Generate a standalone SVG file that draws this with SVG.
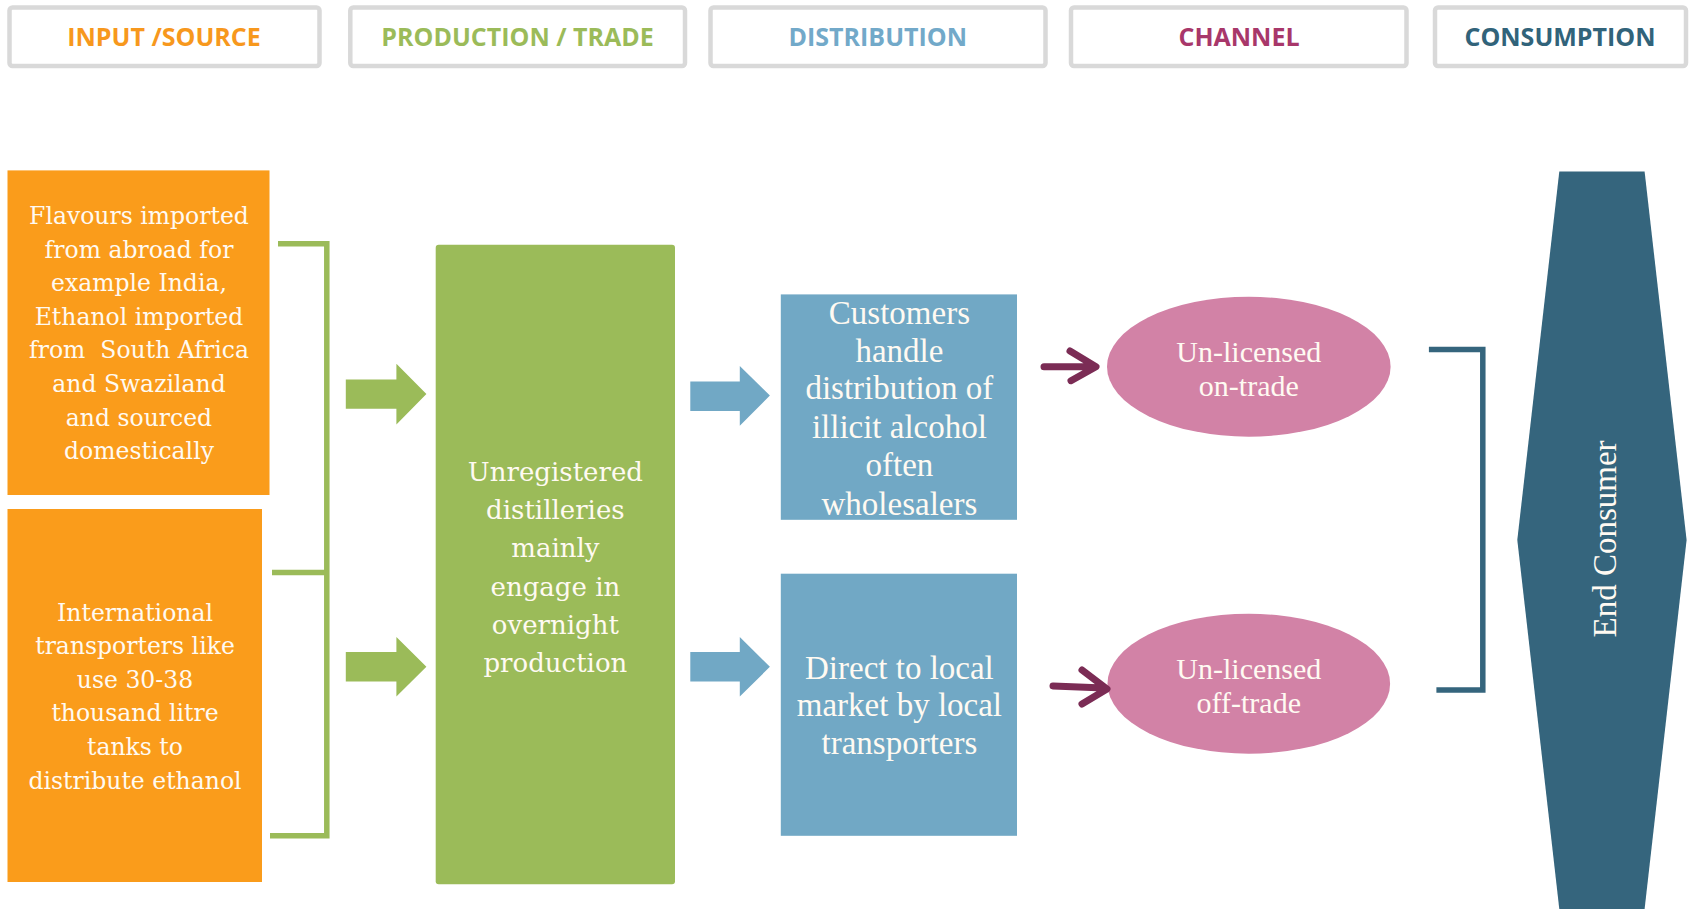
<svg xmlns="http://www.w3.org/2000/svg" width="1691" height="911" viewBox="0 0 1691 911">
<style>
.hdr{fill:#fff;stroke:#d9d9d9;stroke-width:4.5}
.ht{font-family:"Open Sans","Liberation Sans",sans-serif;font-weight:700;font-size:25px;text-anchor:middle}
.st{font-family:"DejaVu Serif","Liberation Serif",serif;font-size:23.5px;fill:#fffaf2;text-anchor:middle}
.gt{font-family:"DejaVu Serif","Liberation Serif",serif;font-size:26px;fill:#fffaf2;text-anchor:middle}
.ct{font-family:"Liberation Serif",serif;font-size:33px;fill:#fffaf2;text-anchor:middle}
.et{font-family:"Liberation Serif",serif;font-size:30px;fill:#fffaf2;text-anchor:middle}
.ec{font-family:"Liberation Serif",serif;font-size:33px;fill:#fffaf2;text-anchor:middle}
.br{fill:none;stroke-width:5.5}
.mar{fill:none;stroke:#7b2c55;stroke-width:7;stroke-linecap:round;stroke-linejoin:round}
</style>
<rect width="1691" height="911" fill="#fff"/>

<g id="header-input"><rect class="hdr" x="9.5" y="7.5" width="310" height="58.5" rx="3"/><text class="ht" x="164" y="45.5" fill="#f7981d">INPUT /SOURCE</text></g>
<g id="header-production"><rect class="hdr" x="350.3" y="7.5" width="334.7" height="58.5" rx="3"/><text class="ht" x="517.6" y="45.5" fill="#9bbb59">PRODUCTION / TRADE</text></g>
<g id="header-distribution"><rect class="hdr" x="710.5" y="7.5" width="335" height="58.5" rx="3"/><text class="ht" x="877.8" y="45.5" fill="#72a9c9">DISTRIBUTION</text></g>
<g id="header-channel"><rect class="hdr" x="1071" y="7.5" width="335.5" height="58.5" rx="3"/><text class="ht" x="1239" y="45.5" fill="#a8376a">CHANNEL</text></g>
<g id="header-consumption"><rect class="hdr" x="1435" y="7.5" width="251" height="58.5" rx="3"/><text class="ht" x="1560" y="45.5" fill="#31637a">CONSUMPTION</text></g>

<g id="source-flavours">
<rect x="7.5" y="170.4" width="262" height="324.6" fill="#fa9c1b"/>
<text class="st"><tspan x="139" y="224">Flavours imported</tspan><tspan x="139" y="257.6">from abroad for</tspan><tspan x="139" y="291.2">example India,</tspan><tspan x="139" y="324.8">Ethanol imported</tspan><tspan x="139" y="358.4">from&#160; South Africa</tspan><tspan x="139" y="392">and Swaziland</tspan><tspan x="139" y="425.6">and sourced</tspan><tspan x="139" y="459.2">domestically</tspan></text>
</g>
<g id="source-transporters">
<rect x="7.5" y="509" width="254.5" height="373" fill="#fa9c1b"/>
<text class="st"><tspan x="135" y="620.5">International</tspan><tspan x="135" y="654.1">transporters like</tspan><tspan x="135" y="687.7">use 30-38</tspan><tspan x="135" y="721.3">thousand litre</tspan><tspan x="135" y="754.9">tanks to</tspan><tspan x="135" y="788.5">distribute ethanol</tspan></text>
</g>
<g id="production">
<rect x="435.7" y="244.8" width="239.3" height="639.5" rx="3" fill="#9bbb59"/>
<text class="gt"><tspan x="555.4" y="481">Unregistered</tspan><tspan x="555.4" y="519">distilleries</tspan><tspan x="555.4" y="557">mainly</tspan><tspan x="555.4" y="596">engage in</tspan><tspan x="555.4" y="634">overnight</tspan><tspan x="555.4" y="672">production</tspan></text>
</g>
<g id="dist-customers">
<rect x="780.8" y="294.4" width="236.2" height="225.4" fill="#71a8c5"/>
<text class="ct"><tspan x="899.4" y="324">Customers</tspan><tspan x="899.4" y="362">handle</tspan><tspan x="899.4" y="399">distribution of</tspan><tspan x="899.4" y="438">illicit alcohol</tspan><tspan x="899.4" y="476">often</tspan><tspan x="899.4" y="515">wholesalers</tspan></text>
</g>
<g id="dist-direct">
<rect x="780.8" y="573.7" width="236.2" height="262.1" fill="#71a8c5"/>
<text class="ct"><tspan x="899.4" y="679">Direct to local</tspan><tspan x="899.4" y="716">market by local</tspan><tspan x="899.4" y="754">transporters</tspan></text>
</g>
<g id="channel-on">
<ellipse cx="1248.8" cy="366.7" rx="141.8" ry="70" fill="#d282a6"/>
<text class="et"><tspan x="1248.8" y="361.5">Un-licensed</tspan><tspan x="1248.8" y="396">on-trade</tspan></text>
</g>
<g id="channel-off">
<ellipse cx="1248.8" cy="683.7" rx="141.3" ry="70" fill="#d282a6"/>
<text class="et"><tspan x="1248.8" y="678.5">Un-licensed</tspan><tspan x="1248.8" y="713">off-trade</tspan></text>
</g>
<g id="end-consumer">
<polygon points="1559.3,171.5 1644.6,171.5 1686.6,540 1644.6,909 1559.3,909 1517.3,540" fill="#35657d"/>
<text class="ec" transform="translate(1616,539) rotate(-90)" x="0" y="0">End Consumer</text>
</g>

<g id="connectors">
<path class="br" stroke="#9bbb59" d="M278,243.7 H326.8 V835.8 H270 M272,572.6 H326.8"/>
<polygon fill="#9bbb59" points="345.8,379.5 396.4,379.5 396.4,363.8 426.4,394.1 396.4,424.5 396.4,408.7 345.8,408.7"/>
<polygon fill="#9bbb59" points="345.8,652 396.4,652 396.4,637 426.4,666.8 396.4,696.6 396.4,681.6 345.8,681.6"/>
<polygon fill="#71a8c5" points="690.3,381.5 739.8,381.5 739.8,366 769.9,395.5 739.8,425.8 739.8,411 690.3,411"/>
<polygon fill="#71a8c5" points="690.3,652 739.8,652 739.8,637 769.9,666.8 739.8,696.6 739.8,681.6 690.3,681.6"/>
<path class="mar" d="M1044,366.7 H1094 M1070,351 L1096,366.7 L1071,380.7"/>
<path class="mar" d="M1053,686 L1104,688 M1082,670 L1107,689 L1082,704"/>
<path class="br" stroke="#35657d" d="M1428.9,349.4 H1482.8 V690 H1436.4"/>
</g>
</svg>
